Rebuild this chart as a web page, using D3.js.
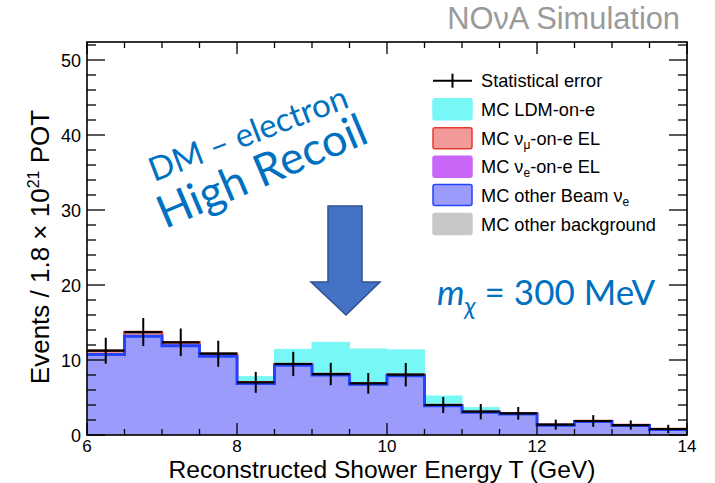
<!DOCTYPE html>
<html>
<head>
<meta charset="utf-8">
<script src="https://cdn.jsdelivr.net/npm/d3@7"></script>
<style>
  html, body { margin: 0; padding: 0; background: #fff; }
  svg { display: block; }
  .axis-text { font-family: "Liberation Sans", Arial, Helvetica, sans-serif; fill: #000; }
  .note { font-family: Lato, "Noto Sans", sans-serif; fill: #0070C0; }
</style>
</head>
<body>
<svg id="chart" width="715" height="483"></svg>
<script>
// Reconstructed shower energy bins (GeV), low edges; last edge closes the range
const binLow = [6.0, 6.5, 7.0, 7.5, 8.0, 8.5, 9.0, 9.5, 10.0, 10.5, 11.0, 11.5, 12.0, 12.5, 13.0, 13.5];
const binHigh = 14.0;

// Stacked MC components (events per bin)
const otherBackground = [0, 0, 0, 0, 0, 0, 0, 0, 0, 0, 0, 0, 0, 0, 0, 0];
const otherBeamNue    = [10.73, 13.17, 11.91, 10.49, 6.86, 9.31, 8.00, 6.76, 7.91, 3.90, 3.02, 2.80, 1.30, 1.80, 1.26, 0.73];
const nueOnE          = [0.06, 0.06, 0.05, 0.05, 0.04, 0.04, 0.03, 0.03, 0.03, 0.02, 0.02, 0.02, 0.02, 0.02, 0.02, 0.02];
const numuOnE         = [0.45, 0.50, 0.40, 0.30, 0.12, 0.12, 0.10, 0.10, 0.10, 0.08, 0.07, 0.07, 0.06, 0.05, 0.05, 0.05];
const ldmOnE          = [0.02, 0.02, 0.02, 0.14, 0.76, 1.95, 4.23, 4.58, 3.31, 1.20, 0.53, 0.05, 0.01, 0.01, 0.01, 0.01];

// Total background with its statistical error
const totalBackground = [11.24, 13.73, 12.36, 10.84, 7.02, 9.47, 8.13, 6.89, 8.04, 4.00, 3.11, 2.89, 1.38, 1.87, 1.33, 0.80];
const statError       = [1.73, 1.87, 1.84, 1.73, 1.40, 1.62, 1.49, 1.38, 1.56, 1.07, 1.02, 0.84, 0.67, 0.78, 0.62, 0.56];

// Axis ticks
const xTicks = [6, 8, 10, 12, 14];
const yTicks = [0, 10, 20, 30, 40, 50];

const svg = d3.select("#chart");
const m = { left: 87, right: 687, top: 42, bottom: 435 };

const x = d3.scaleLinear().domain([6, 14]).range([m.left, m.right]);
const y = d3.scaleLinear().domain([0, 52.4]).range([m.bottom, m.top]);

// clip for histogram fills
svg.append("defs").append("clipPath").attr("id", "plotclip")
  .append("rect").attr("x", m.left).attr("y", m.top)
  .attr("width", m.right - m.left).attr("height", m.bottom - m.top);

// cumulative stacks
const n = binLow.length;
const cum0 = otherBackground.slice();
const cum1 = cum0.map((v, i) => v + otherBeamNue[i]);
const cum2 = cum1.map((v, i) => v + nueOnE[i]);
const cum3 = cum2.map((v, i) => v + numuOnE[i]);
const cum4 = cum3.map((v, i) => v + ldmOnE[i]);

function stepPoints(vals) {
  const pts = vals.map((v, i) => [binLow[i], v]);
  pts.push([binHigh, vals[vals.length - 1]]);
  return pts;
}
const area = d3.area().curve(d3.curveStepAfter)
  .x(d => x(d[0])).y0(y(0)).y1(d => y(d[1]));
const line = d3.line().curve(d3.curveStepAfter)
  .x(d => x(d[0])).y(d => y(d[1]));

const layers = [
  { vals: cum4, fill: "#78f7f7", stroke: "#78f7f7", sw: 1 },
  { vals: cum3, fill: "#f29a9a", stroke: "#e8392e", sw: 2.5 },
  { vals: cum2, fill: "#c966f7", stroke: "#b24ef0", sw: 1.5 },
  { vals: cum1, fill: "#9a9bfb", stroke: "#2244ff", sw: 3 },
  { vals: cum0, fill: "#c8c8c8", stroke: "#9a9a9a", sw: 1 }
];

const hist = svg.append("g").attr("clip-path", "url(#plotclip)");
layers.forEach(L => {
  if (d3.max(L.vals) <= 0) return;
  hist.append("path").attr("d", area(stepPoints(L.vals))).attr("fill", L.fill);
  hist.append("path").attr("d", line(stepPoints(L.vals)))
    .attr("fill", "none").attr("stroke", L.stroke).attr("stroke-width", L.sw);
});

// total background: horizontal bars with vertical statistical errors
const errG = svg.append("g").attr("stroke", "#000").attr("stroke-width", 2.2);
binLow.forEach((lo, i) => {
  const hi = i < n - 1 ? binLow[i + 1] : binHigh;
  const mid = (lo + hi) / 2;
  errG.append("line").attr("x1", x(lo)).attr("x2", x(hi))
    .attr("y1", y(totalBackground[i])).attr("y2", y(totalBackground[i]));
  errG.append("line").attr("x1", x(mid)).attr("x2", x(mid))
    .attr("y1", y(totalBackground[i] - statError[i])).attr("y2", y(totalBackground[i] + statError[i]))
    .attr("stroke-width", 2);
});

// frame and ticks
const axes = svg.append("g").attr("stroke", "#000").attr("stroke-width", 1.3);
const xMajLen = 12, xMinLen = 6, yMajLen = 18, yMinLen = 9;
const xMinor = d3.range(0, 17).map(k => 6 + k * 0.5);
xMinor.forEach(v => {
  const major = xTicks.includes(v);
  const L = major ? xMajLen : xMinLen;
  axes.append("line").attr("x1", x(v)).attr("x2", x(v)).attr("y1", m.bottom).attr("y2", m.bottom - L);
  axes.append("line").attr("x1", x(v)).attr("x2", x(v)).attr("y1", m.top).attr("y2", m.top + L);
});
const yMinor = d3.range(0, 27).map(k => k * 2);
yMinor.forEach(v => {
  const major = v % 10 === 0;
  const L = major ? yMajLen : yMinLen;
  axes.append("line").attr("x1", m.left).attr("x2", m.left + L).attr("y1", y(v)).attr("y2", y(v));
  axes.append("line").attr("x1", m.right).attr("x2", m.right - L).attr("y1", y(v)).attr("y2", y(v));
});
axes.append("rect").attr("x", m.left).attr("y", m.top)
  .attr("width", m.right - m.left).attr("height", m.bottom - m.top)
  .attr("fill", "none").attr("stroke-width", 1.6);

// tick labels
svg.append("g").selectAll("text").data(xTicks).join("text")
  .attr("class", "axis-text").attr("x", d => x(d)).attr("y", 451.5)
  .attr("text-anchor", "middle").attr("font-size", 17).text(d => d);
svg.append("g").selectAll("text").data(yTicks).join("text")
  .attr("class", "axis-text").attr("x", 81).attr("y", d => y(d) + 6.5)
  .attr("text-anchor", "end").attr("font-size", 18).text(d => d);

// axis titles
svg.append("text").attr("class", "axis-text")
  .attr("x", 382).attr("y", 477.5).attr("text-anchor", "middle").attr("font-size", 24.6)
  .text("Reconstructed Shower Energy T (GeV)");
const yt = svg.append("text").attr("class", "axis-text")
  .attr("transform", "translate(49,247) rotate(-90)")
  .attr("text-anchor", "middle").attr("font-size", 26);
yt.append("tspan").text("Events / 1.8 \u00d7 10");
yt.append("tspan").attr("dy", -10).attr("font-size", 16).text("21");
yt.append("tspan").attr("dy", 10).text(" POT");

// experiment label
svg.append("text").attr("class", "axis-text")
  .attr("x", 680).attr("y", 29).attr("text-anchor", "end")
  .attr("font-size", 30.8).style("fill", "#9a9a9a")
  .text("NO\u03bdA Simulation");

// legend
const legend = svg.append("g").attr("class", "axis-text");
const rowY = [80.7, 109.3, 138.3, 166.7, 195, 224];
const boxX = 432, boxW = 41, boxH = 21;
legend.append("line").attr("x1", boxX + 1).attr("x2", boxX + boxW - 1)
  .attr("y1", rowY[0]).attr("y2", rowY[0]).attr("stroke", "#000").attr("stroke-width", 2);
legend.append("line").attr("x1", boxX + boxW / 2).attr("x2", boxX + boxW / 2)
  .attr("y1", rowY[0] - 7).attr("y2", rowY[0] + 7).attr("stroke", "#000").attr("stroke-width", 2);
const boxes = [
  { fill: "#78f7f7", stroke: "#78f7f7" },
  { fill: "#f29a9a", stroke: "#e8392e" },
  { fill: "#c966f7", stroke: "#c966f7" },
  { fill: "#9a9bfb", stroke: "#2244ff" },
  { fill: "#c8c8c8", stroke: "#c8c8c8" }
];
boxes.forEach((b, i) => {
  legend.append("rect").attr("x", boxX + 1).attr("y", rowY[i + 1] - boxH / 2)
    .attr("width", boxW - 2).attr("height", boxH).attr("rx", 2)
    .attr("fill", b.fill).attr("stroke", b.stroke).attr("stroke-width", 1.5);
});
const labels = [
  [["Statistical error"]],
  [["MC LDM-on-e"]],
  [["MC \u03bd"], ["\u03bc", "sub"], ["-on-e EL"]],
  [["MC \u03bd"], ["e", "sub"], ["-on-e EL"]],
  [["MC other Beam \u03bd"], ["e", "sub"]],
  [["MC other background"]]
];
labels.forEach((parts, i) => {
  const t = legend.append("text").attr("x", 481).attr("y", rowY[i] + 6.5).attr("font-size", 18.2);
  let shifted = false;
  parts.forEach(p => {
    const s = t.append("tspan").text(p[0]);
    if (p[1] === "sub") { s.attr("font-size", 12).attr("dy", 4); shifted = true; }
    else if (shifted) { s.attr("dy", -4); shifted = false; }
  });
});

// annotations
svg.append("text").attr("class", "note")
  .attr("transform", "translate(154,182) rotate(-21)")
  .attr("font-size", 33).text("DM \u2013 electron");
svg.append("text").attr("class", "note")
  .attr("transform", "translate(165,229) rotate(-23)")
  .attr("font-size", 45).text("High Recoil");

const mt = svg.append("text").attr("class", "note").attr("x", 437).attr("y", 305).attr("font-size", 35);
mt.append("tspan").attr("font-style", "italic").text("m");
mt.append("tspan").attr("font-style", "italic").attr("font-size", 25).attr("dy", 10).text("\u03c7");
mt.append("tspan").attr("dy", -10).text(" = 300 MeV");

// arrow pointing down to the signal region
const arrowPts = [[328, 206], [362, 206], [362, 282], [380, 282], [346, 315], [311, 282], [328, 282]];
svg.append("path").attr("d", d3.line()(arrowPts) + "Z")
  .attr("fill", "#4472C4").attr("stroke", "#2F528F").attr("stroke-width", 1.5);
</script>
</body>
</html>
